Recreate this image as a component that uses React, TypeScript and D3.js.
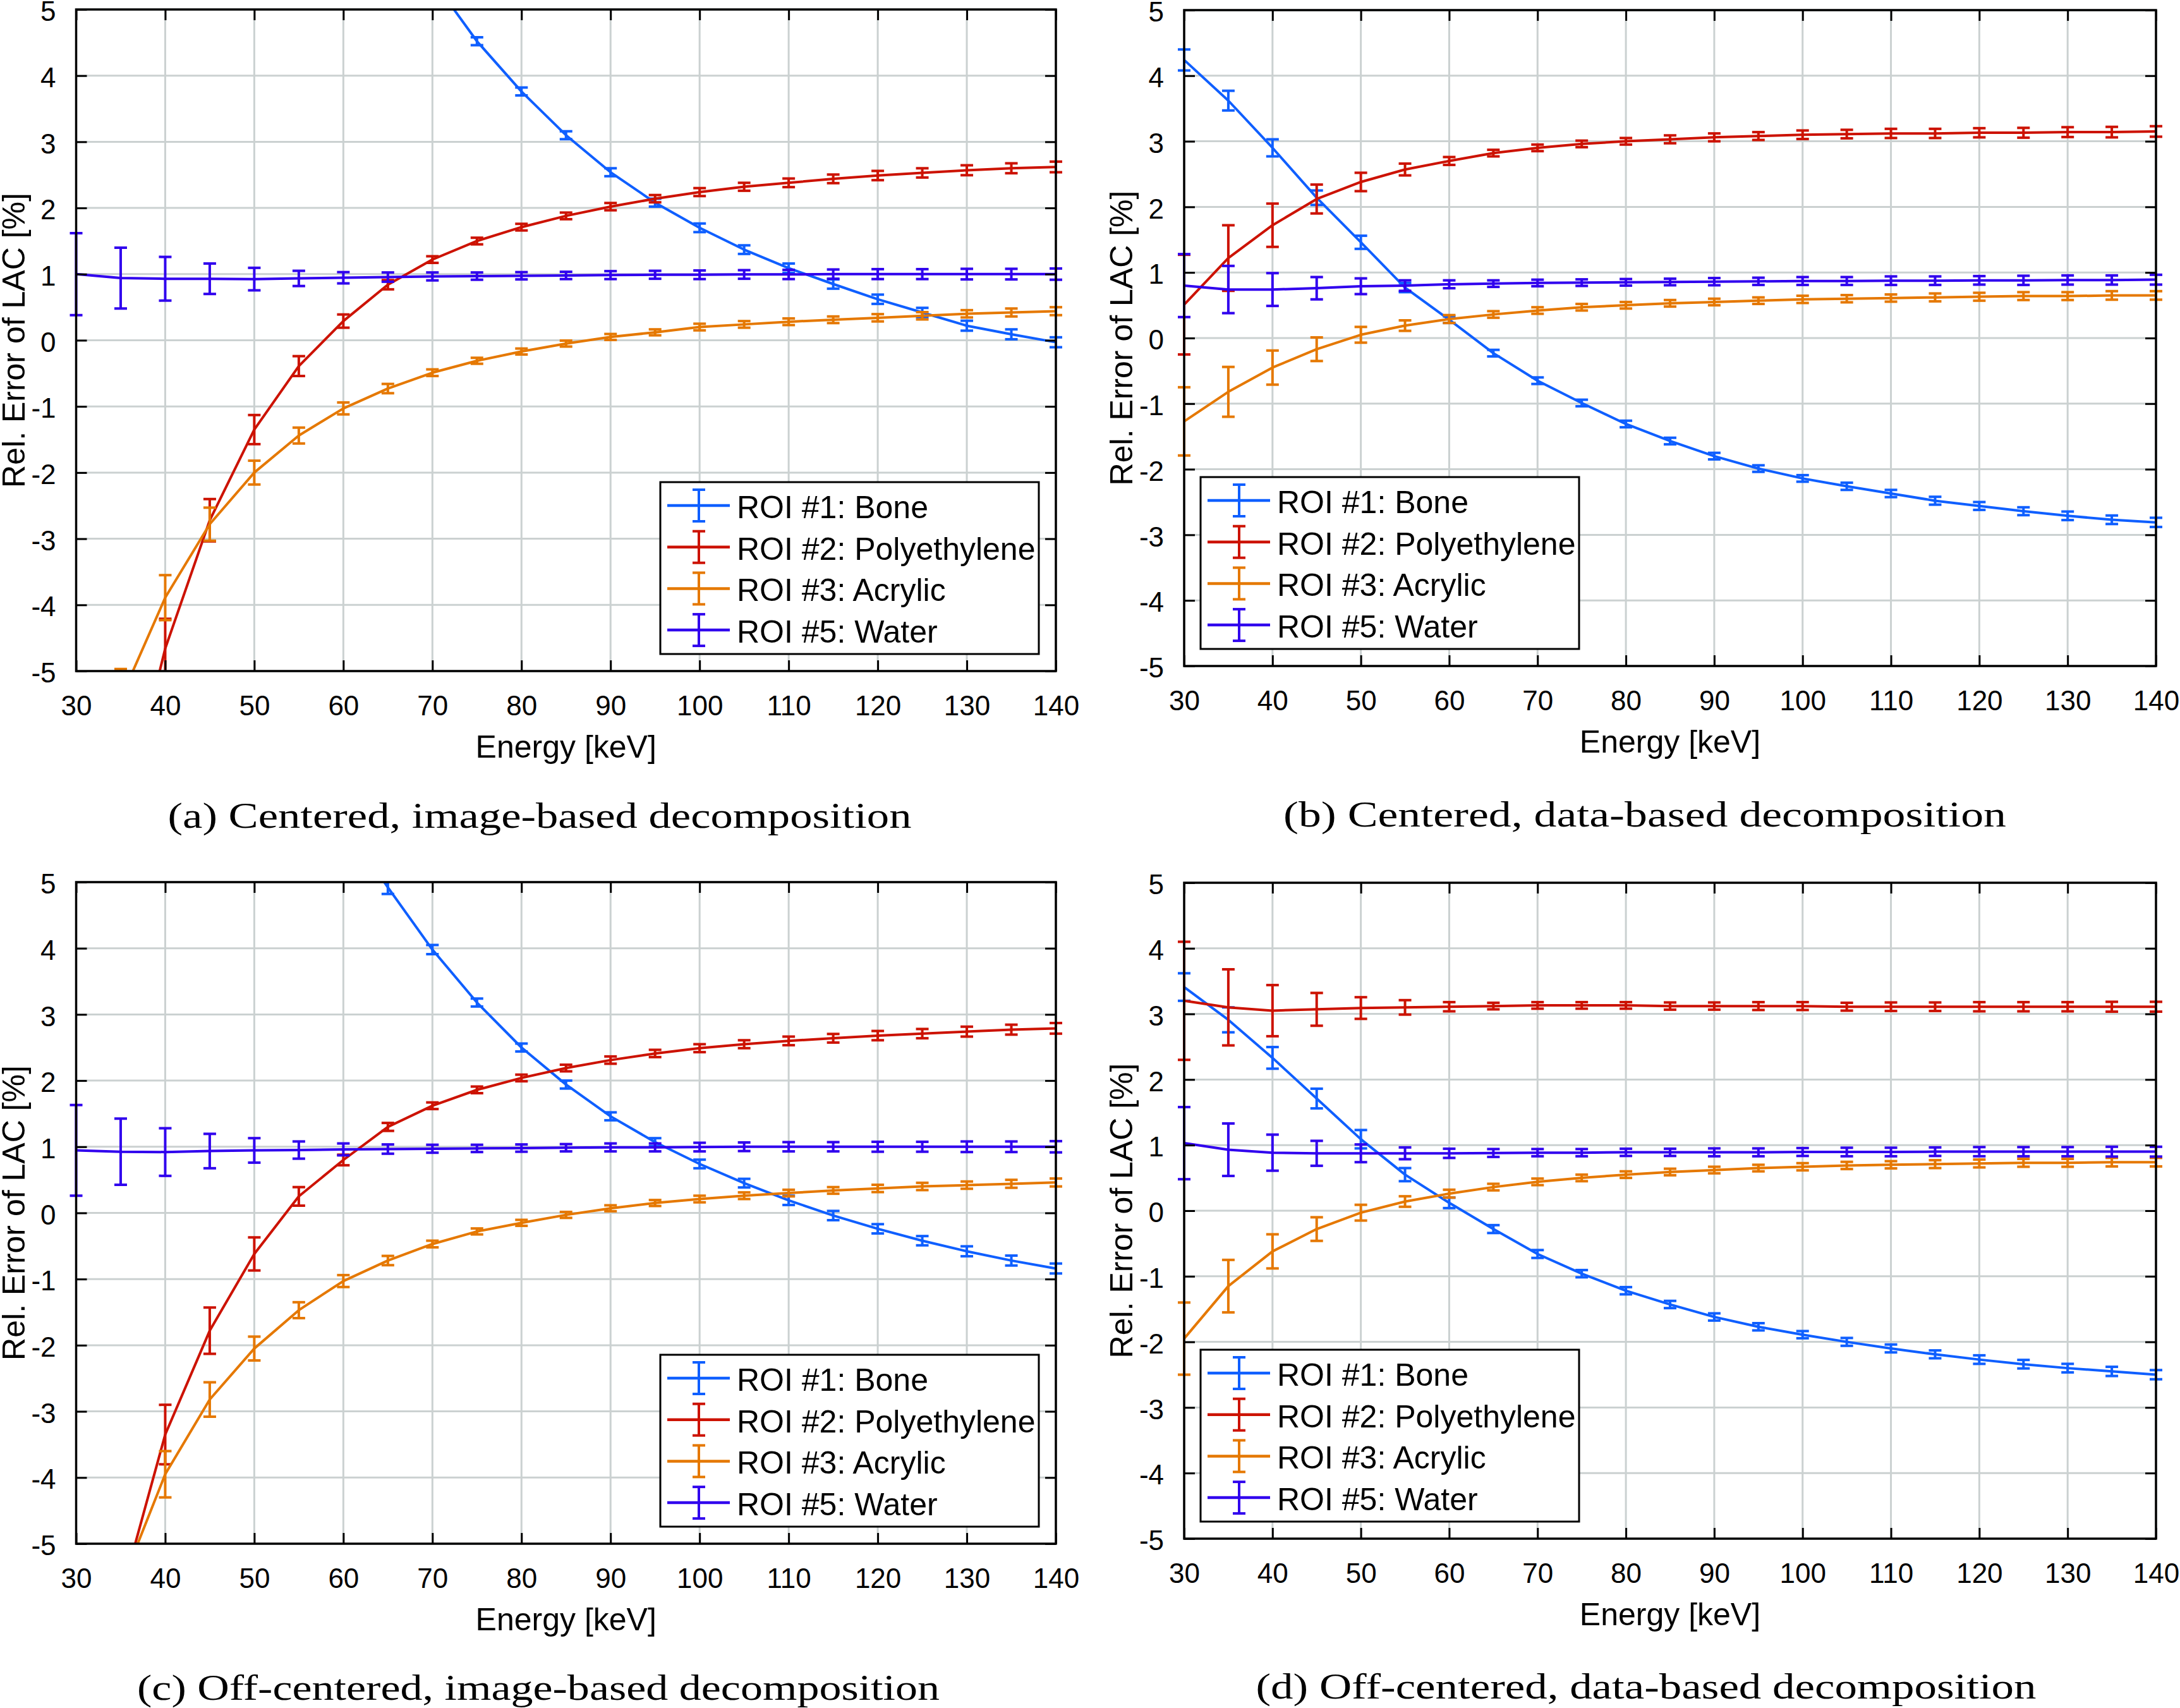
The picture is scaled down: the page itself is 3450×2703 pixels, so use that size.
import React, { useEffect, useRef } from "react";
import * as d3 from "d3";

// photon energies of the virtual monochromatic images
const energies = [30, 35, 40, 45, 50, 55, 60, 65, 70, 75, 80, 85, 90, 95, 100, 105, 110, 115, 120, 125, 130, 135, 140];

const seriesNames = ["ROI #1: Bone", "ROI #2: Polyethylene", "ROI #3: Acrylic", "ROI #5: Water"];
const seriesColors = ["#0f5fff", "#cc1200", "#e57800", "#3000ee"];

const xTicks = [30, 40, 50, 60, 70, 80, 90, 100, 110, 120, 130, 140];
const yTicks = [-5, -4, -3, -2, -1, 0, 1, 2, 3, 4, 5];

const captions = [
	"(a) Centered, image-based decomposition",
	"(b) Centered, data-based decomposition",
	"(c) Off-centered, image-based decomposition",
	"(d) Off-centered, data-based decomposition",
];

// (a) centered, image-based
const aBone = [20.5, 16.8, 13.9, 11.6, 9.8, 8.3, 7.1, 6.2, 5.45, 4.52, 3.76, 3.1, 2.54, 2.08, 1.7, 1.37, 1.09, 0.85, 0.62, 0.42, 0.22, 0.09, -0.03];
const aBoneErr = [0.3, 0.25, 0.2, 0.18, 0.15, 0.13, 0.12, 0.1, 0.09, 0.06, 0.06, 0.06, 0.06, 0.06, 0.065, 0.065, 0.07, 0.07, 0.07, 0.07, 0.075, 0.075, 0.075];
const aPoly = [-10.5, -7.4, -4.66, -2.72, -1.35, -0.39, 0.29, 0.84, 1.22, 1.5, 1.71, 1.88, 2.02, 2.14, 2.24, 2.32, 2.38, 2.44, 2.49, 2.53, 2.57, 2.6, 2.62];
const aPolyErr = [0.8, 0.6, 0.45, 0.32, 0.22, 0.15, 0.1, 0.07, 0.05, 0.05, 0.05, 0.05, 0.055, 0.055, 0.06, 0.06, 0.065, 0.065, 0.07, 0.07, 0.075, 0.075, 0.08];
const aAcryl = [-7.6, -5.42, -3.89, -2.78, -2.0, -1.44, -1.03, -0.73, -0.49, -0.31, -0.17, -0.05, 0.05, 0.12, 0.2, 0.24, 0.28, 0.31, 0.34, 0.37, 0.4, 0.42, 0.44];
const aAcrylErr = [0.6, 0.45, 0.34, 0.25, 0.18, 0.12, 0.09, 0.07, 0.05, 0.045, 0.045, 0.045, 0.045, 0.045, 0.05, 0.05, 0.05, 0.05, 0.055, 0.055, 0.055, 0.06, 0.06];
const aWater = [1.0, 0.94, 0.93, 0.93, 0.925, 0.935, 0.945, 0.955, 0.965, 0.97, 0.975, 0.98, 0.985, 0.99, 0.99, 0.995, 0.995, 1.0, 1.0, 1.0, 1.0, 1.0, 1.0];
const aWaterErr = [0.62, 0.46, 0.33, 0.23, 0.17, 0.115, 0.085, 0.07, 0.06, 0.055, 0.055, 0.055, 0.06, 0.06, 0.065, 0.065, 0.07, 0.07, 0.075, 0.075, 0.08, 0.08, 0.085];

// (b) centered, data-based
const bBone = [4.24, 3.62, 2.9, 2.14, 1.46, 0.77, 0.28, -0.23, -0.65, -0.99, -1.31, -1.57, -1.8, -1.99, -2.14, -2.26, -2.37, -2.48, -2.56, -2.64, -2.71, -2.77, -2.81];
const bBoneErr = [0.16, 0.15, 0.13, 0.11, 0.1, 0.07, 0.05, 0.05, 0.05, 0.05, 0.05, 0.05, 0.05, 0.05, 0.05, 0.055, 0.055, 0.06, 0.06, 0.06, 0.065, 0.065, 0.07];
const bPoly = [0.51, 1.22, 1.72, 2.12, 2.38, 2.57, 2.7, 2.82, 2.9, 2.96, 3.0, 3.03, 3.06, 3.08, 3.1, 3.11, 3.12, 3.12, 3.13, 3.13, 3.14, 3.14, 3.15];
const bPolyErr = [0.76, 0.5, 0.33, 0.22, 0.14, 0.09, 0.06, 0.05, 0.05, 0.05, 0.05, 0.06, 0.06, 0.06, 0.065, 0.065, 0.07, 0.07, 0.07, 0.075, 0.075, 0.08, 0.08];
const bAcryl = [-1.27, -0.82, -0.45, -0.17, 0.05, 0.19, 0.29, 0.36, 0.42, 0.47, 0.5, 0.53, 0.55, 0.57, 0.59, 0.6, 0.61, 0.62, 0.63, 0.64, 0.64, 0.65, 0.65];
const bAcrylErr = [0.52, 0.38, 0.26, 0.18, 0.12, 0.08, 0.06, 0.05, 0.05, 0.05, 0.05, 0.05, 0.05, 0.05, 0.055, 0.055, 0.055, 0.06, 0.06, 0.06, 0.06, 0.065, 0.065];
const bWater = [0.8, 0.74, 0.74, 0.76, 0.79, 0.8, 0.82, 0.83, 0.84, 0.845, 0.85, 0.855, 0.86, 0.865, 0.87, 0.87, 0.875, 0.875, 0.88, 0.88, 0.885, 0.885, 0.89];
const bWaterErr = [0.48, 0.36, 0.25, 0.17, 0.12, 0.08, 0.06, 0.05, 0.05, 0.05, 0.05, 0.05, 0.055, 0.055, 0.06, 0.06, 0.065, 0.065, 0.065, 0.07, 0.07, 0.07, 0.075];

// (c) off-centered, image-based
const cBone = [16.0, 13.2, 11.0, 9.3, 7.9, 6.8, 5.9, 4.92, 3.98, 3.18, 2.5, 1.94, 1.46, 1.07, 0.74, 0.45, 0.19, -0.04, -0.24, -0.42, -0.58, -0.72, -0.84];
const cBoneErr = [0.3, 0.25, 0.2, 0.18, 0.15, 0.13, 0.12, 0.1, 0.07, 0.06, 0.06, 0.06, 0.06, 0.06, 0.065, 0.065, 0.07, 0.07, 0.07, 0.07, 0.075, 0.075, 0.075];
const cPoly = [-8.5, -5.8, -3.35, -1.78, -0.62, 0.25, 0.8, 1.3, 1.62, 1.86, 2.04, 2.19, 2.31, 2.41, 2.49, 2.55, 2.6, 2.64, 2.68, 2.71, 2.74, 2.77, 2.79];
const cPolyErr = [0.8, 0.6, 0.45, 0.35, 0.25, 0.14, 0.08, 0.06, 0.05, 0.05, 0.05, 0.05, 0.055, 0.055, 0.06, 0.06, 0.065, 0.065, 0.07, 0.07, 0.075, 0.075, 0.08];
const cAcryl = [-8.0, -5.65, -3.95, -2.82, -2.05, -1.47, -1.03, -0.72, -0.47, -0.28, -0.15, -0.03, 0.07, 0.15, 0.21, 0.26, 0.3, 0.34, 0.37, 0.4, 0.42, 0.44, 0.46];
const cAcrylErr = [0.6, 0.45, 0.35, 0.26, 0.18, 0.12, 0.09, 0.07, 0.05, 0.045, 0.045, 0.045, 0.045, 0.045, 0.05, 0.05, 0.05, 0.05, 0.055, 0.055, 0.055, 0.06, 0.06];
const cWater = [0.945, 0.925, 0.92, 0.935, 0.945, 0.95, 0.96, 0.965, 0.97, 0.975, 0.98, 0.985, 0.99, 0.99, 0.995, 1.0, 1.0, 1.0, 1.0, 1.0, 1.0, 1.0, 1.0];
const cWaterErr = [0.685, 0.5, 0.36, 0.26, 0.185, 0.13, 0.09, 0.07, 0.06, 0.055, 0.055, 0.055, 0.06, 0.06, 0.065, 0.065, 0.07, 0.07, 0.075, 0.075, 0.08, 0.08, 0.085];

// (d) off-centered, data-based
const dBone = [3.41, 2.91, 2.33, 1.71, 1.09, 0.55, 0.12, -0.28, -0.66, -0.96, -1.22, -1.43, -1.62, -1.77, -1.89, -2.0, -2.1, -2.19, -2.27, -2.34, -2.4, -2.45, -2.5];
const dBoneErr = [0.21, 0.19, 0.165, 0.15, 0.14, 0.1, 0.08, 0.06, 0.06, 0.055, 0.055, 0.055, 0.055, 0.055, 0.055, 0.06, 0.06, 0.06, 0.065, 0.065, 0.065, 0.07, 0.07];
const dPoly = [3.2, 3.1, 3.05, 3.07, 3.09, 3.1, 3.11, 3.12, 3.13, 3.13, 3.13, 3.12, 3.12, 3.12, 3.12, 3.11, 3.11, 3.11, 3.11, 3.11, 3.11, 3.11, 3.11];
const dPolyErr = [0.9, 0.58, 0.39, 0.25, 0.165, 0.11, 0.07, 0.05, 0.05, 0.05, 0.05, 0.055, 0.055, 0.06, 0.06, 0.06, 0.065, 0.065, 0.07, 0.07, 0.07, 0.075, 0.075];
const dAcryl = [-1.95, -1.15, -0.62, -0.28, -0.03, 0.14, 0.26, 0.36, 0.44, 0.5, 0.55, 0.59, 0.62, 0.65, 0.67, 0.69, 0.7, 0.71, 0.72, 0.73, 0.73, 0.74, 0.74];
const dAcrylErr = [0.55, 0.4, 0.26, 0.18, 0.12, 0.08, 0.06, 0.05, 0.05, 0.05, 0.05, 0.05, 0.05, 0.05, 0.055, 0.055, 0.055, 0.06, 0.06, 0.06, 0.06, 0.065, 0.065];
const dWater = [1.03, 0.93, 0.885, 0.875, 0.875, 0.875, 0.875, 0.88, 0.885, 0.885, 0.89, 0.89, 0.89, 0.89, 0.895, 0.895, 0.895, 0.9, 0.9, 0.9, 0.9, 0.9, 0.9];
const dWaterErr = [0.55, 0.4, 0.275, 0.19, 0.135, 0.09, 0.07, 0.06, 0.055, 0.055, 0.055, 0.055, 0.06, 0.06, 0.06, 0.065, 0.065, 0.065, 0.07, 0.07, 0.07, 0.075, 0.075];

const panelValues = [
	[aBone, aPoly, aAcryl, aWater],
	[bBone, bPoly, bAcryl, bWater],
	[cBone, cPoly, cAcryl, cWater],
	[dBone, dPoly, dAcryl, dWater],
];
const panelErrors = [
	[aBoneErr, aPolyErr, aAcrylErr, aWaterErr],
	[bBoneErr, bPolyErr, bAcrylErr, bWaterErr],
	[cBoneErr, cPolyErr, cAcrylErr, cWaterErr],
	[dBoneErr, dPolyErr, dAcrylErr, dWaterErr],
];

// plot frames in page pixels
const frames = [
	{ left: 120.5, top: 15, right: 1671, bottom: 1062, legend: "se", capX: 854, capY: 1310, capW: 1177 },
	{ left: 1874, top: 16, right: 3412, bottom: 1054, legend: "sw", capX: 2603, capY: 1308, capW: 1144 },
	{ left: 120.5, top: 1396, right: 1671, bottom: 2443, legend: "se", capX: 852, capY: 2690, capW: 1270 },
	{ left: 1874, top: 1397, right: 3412, bottom: 2435, legend: "sw", capX: 2605, capY: 2688, capW: 1235 },
];

const WIDTH = 3450;
const HEIGHT = 2703;
const SANS = "'Liberation Sans', Arial, Helvetica, sans-serif";
const SERIF = "'Liberation Serif', 'Times New Roman', serif";
const GRID = "#cbd1d1";

function App() {
	const svgRef = useRef(null);

	useEffect(() => {
		const svg = d3.select(svgRef.current);
		svg.selectAll("*").remove();

		// plain hyphen for negatives, like the original MATLAB ticks
		const plain = (d) => String(d);

		frames.forEach((f, pi) => {
			const x = d3.scaleLinear().domain([30, 140]).range([f.left, f.right]);
			const y = d3.scaleLinear().domain([-5, 5]).range([f.bottom, f.top]);
			const g = svg.append("g");

			// grid
			g.append("g")
				.selectAll("line")
				.data(xTicks)
				.enter()
				.append("line")
				.attr("x1", (d) => x(d))
				.attr("x2", (d) => x(d))
				.attr("y1", f.top)
				.attr("y2", f.bottom)
				.attr("stroke", GRID)
				.attr("stroke-width", 3);
			g.append("g")
				.selectAll("line")
				.data(yTicks)
				.enter()
				.append("line")
				.attr("x1", f.left)
				.attr("x2", f.right)
				.attr("y1", (d) => y(d))
				.attr("y2", (d) => y(d))
				.attr("stroke", GRID)
				.attr("stroke-width", 3);

			// clip lines at the top/bottom of the axes, let caps poke out sideways
			const clipId = `clip-${pi}`;
			svg.append("clipPath")
				.attr("id", clipId)
				.append("rect")
				.attr("x", f.left - 14)
				.attr("y", f.top)
				.attr("width", f.right - f.left + 28)
				.attr("height", f.bottom - f.top);

			const data = g.append("g").attr("clip-path", `url(#${clipId})`);
			const line = d3
				.line<number>()
				.x((d, i) => x(energies[i]))
				.y((d) => y(d));

			panelValues[pi].forEach((vals, si) => {
				const errs = panelErrors[pi][si];
				const color = seriesColors[si];
				const s = data.append("g");
				s.append("path")
					.attr("d", line(vals))
					.attr("fill", "none")
					.attr("stroke", color)
					.attr("stroke-width", 4)
					.attr("stroke-linejoin", "round");

				const bars = s
					.selectAll("g.bar")
					.data(vals.map((v, i) => ({ e: energies[i], v, err: errs[i] })))
					.enter()
					.append("g")
					.attr("class", "bar")
					.attr("stroke", color)
					.attr("stroke-width", 4);
				bars.append("line")
					.attr("x1", (d) => x(d.e))
					.attr("x2", (d) => x(d.e))
					.attr("y1", (d) => y(d.v + d.err))
					.attr("y2", (d) => y(d.v - d.err));
				bars.append("line")
					.attr("x1", (d) => x(d.e) - 10)
					.attr("x2", (d) => x(d.e) + 10)
					.attr("y1", (d) => y(d.v + d.err))
					.attr("y2", (d) => y(d.v + d.err));
				bars.append("line")
					.attr("x1", (d) => x(d.e) - 10)
					.attr("x2", (d) => x(d.e) + 10)
					.attr("y1", (d) => y(d.v - d.err))
					.attr("y2", (d) => y(d.v - d.err));
			});

			// axes with inward ticks on all four sides
			const tickLen = -17;
			const styleAxis = (a) => {
				a.select(".domain").remove();
				a.selectAll(".tick line").attr("stroke", "#000").attr("stroke-width", 3);
				a.selectAll(".tick text")
					.attr("fill", "#000")
					.style("font-family", SANS)
					.style("font-size", "44px");
			};
			g.append("g")
				.attr("transform", `translate(0,${f.bottom})`)
				.call(d3.axisBottom(x).tickValues(xTicks).tickFormat(plain).tickSizeInner(tickLen).tickSizeOuter(0).tickPadding(39))
				.call(styleAxis);
			g.append("g")
				.attr("transform", `translate(0,${f.top})`)
				.call(d3.axisTop(x).tickValues(xTicks).tickFormat(() => "").tickSizeInner(tickLen).tickSizeOuter(0))
				.call(styleAxis);
			g.append("g")
				.attr("transform", `translate(${f.left},0)`)
				.call(d3.axisLeft(y).tickValues(yTicks).tickFormat(plain).tickSizeInner(tickLen).tickSizeOuter(0).tickPadding(32))
				.call(styleAxis)
				.call((a) => a.selectAll(".tick text").attr("dy", "0.4em"));
			g.append("g")
				.attr("transform", `translate(${f.right},0)`)
				.call(d3.axisRight(y).tickValues(yTicks).tickFormat(() => "").tickSizeInner(tickLen).tickSizeOuter(0))
				.call(styleAxis);

			g.append("rect")
				.attr("x", f.left)
				.attr("y", f.top)
				.attr("width", f.right - f.left)
				.attr("height", f.bottom - f.top)
				.attr("fill", "none")
				.attr("stroke", "#000")
				.attr("stroke-width", 3.5);

			// axis titles
			g.append("text")
				.attr("x", (f.left + f.right) / 2)
				.attr("y", f.bottom + 137)
				.attr("text-anchor", "middle")
				.style("font-family", SANS)
				.style("font-size", "50px")
				.text("Energy [keV]");
			g.append("text")
				.attr("transform", `translate(${f.left - 82},${(f.top + f.bottom) / 2}) rotate(-90)`)
				.attr("text-anchor", "middle")
				.style("font-family", SANS)
				.style("font-size", "50px")
				.text("Rel. Error of LAC [%]");

			// legend
			const lw = 599;
			const lh = 272;
			const lx = f.legend === "se" ? f.right - 27 - lw : f.left + 26;
			const ly = f.bottom - 27 - lh;
			const legend = g.append("g").attr("transform", `translate(${lx},${ly})`);
			legend.append("rect")
				.attr("width", lw)
				.attr("height", lh)
				.attr("fill", "#fff")
				.attr("stroke", "#000")
				.attr("stroke-width", 3);
			const items = legend
				.selectAll("g.item")
				.data(seriesNames)
				.enter()
				.append("g")
				.attr("class", "item")
				.attr("transform", (d, i) => `translate(0,${37 + i * 65.7})`);
			items.append("line")
				.attr("x1", 11)
				.attr("x2", 110)
				.attr("stroke", (d, i) => seriesColors[i])
				.attr("stroke-width", 4.5);
			items.append("line")
				.attr("x1", 61)
				.attr("x2", 61)
				.attr("y1", -25)
				.attr("y2", 25)
				.attr("stroke", (d, i) => seriesColors[i])
				.attr("stroke-width", 4);
			[-25, 25].forEach((cy) => {
				items.append("line")
					.attr("x1", 51)
					.attr("x2", 71)
					.attr("y1", cy)
					.attr("y2", cy)
					.attr("stroke", (d, i) => seriesColors[i])
					.attr("stroke-width", 4);
			});
			items.append("text")
				.attr("x", 121)
				.attr("y", 20)
				.style("font-family", SANS)
				.style("font-size", "50px")
				.text((d) => d);

			// subfigure caption
			svg.append("text")
				.attr("x", f.capX)
				.attr("y", f.capY)
				.attr("text-anchor", "middle")
				.attr("textLength", f.capW)
				.attr("lengthAdjust", "spacingAndGlyphs")
				.style("font-family", SERIF)
				.style("font-size", "58px")
				.text(captions[pi]);
		});
	}, []);

	return (
		<svg
			ref={svgRef}
			width={WIDTH}
			height={HEIGHT}
			style={{ position: "absolute", left: 0, top: 0, background: "#fff" }}
		></svg>
	);
}

export default App;
